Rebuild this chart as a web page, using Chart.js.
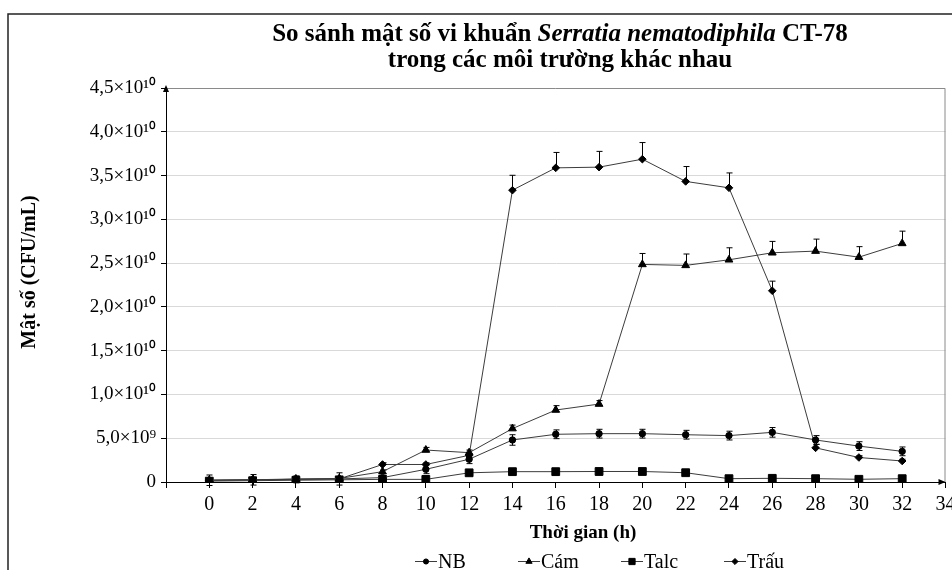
<!DOCTYPE html>
<html><head><meta charset="utf-8">
<script src="https://cdn.jsdelivr.net/npm/chart.js@4.4.1/dist/chart.umd.min.js"></script>
<style>html,body{margin:0;padding:0;background:#fff}</style>
</head><body>
<canvas id="c" width="952" height="570"></canvas>
<script>
// ---- data ----
const hours = [0,2,4,6,8,10,12,14,16,18,20,22,24,26,28,30,32];
const seriesNames = ['NB', 'Cám', 'Talc', 'Trấu'];
const nbValues   = [0.02e10,0.025e10,0.03e10,0.035e10,0.05e10,0.145e10,0.26e10,0.48e10,0.545e10,0.552e10,0.552e10,0.54e10,0.53e10,0.567e10,0.48e10,0.41e10,0.35e10];
const camValues  = [0.02e10,0.025e10,0.035e10,0.04e10,0.118e10,0.365e10,0.335e10,0.61e10,0.822e10,0.89e10,2.485e10,2.474e10,2.538e10,2.618e10,2.637e10,2.568e10,2.725e10];
const talcValues = [0.01e10,0.015e10,0.02e10,0.025e10,0.03e10,0.03e10,0.105e10,0.118e10,0.118e10,0.12e10,0.12e10,0.106e10,0.038e10,0.042e10,0.038e10,0.031e10,0.038e10];
const trauValues = [0.02e10,0.025e10,0.03e10,0.035e10,0.2e10,0.2e10,0.305e10,3.333e10,3.588e10,3.596e10,3.687e10,3.433e10,3.36e10,2.184e10,0.39e10,0.28e10,0.24e10];
const nbErrors   = [0.06e10,0.06e10,0.04e10,0.07e10,0.02e10,0.05e10,0.05e10,0.06e10,0.05e10,0.05e10,0.05e10,0.05e10,0.05e10,0.055e10,0.05e10,0.05e10,0.05e10];
const camErrors  = [0.01e10,0.01e10,0.01e10,0.01e10,0.02e10,0.03e10,0.03e10,0.04e10,0.05e10,0.04e10,0.125e10,0.13e10,0.137e10,0.13e10,0.137e10,0.12e10,0.14e10];
const talcErrors = [0,0,0,0,0,0,0,0,0,0,0,0,0,0,0,0,0];
const trauErrors = [0.01e10,0.01e10,0.01e10,0.01e10,0.02e10,0.02e10,0.02e10,0.17e10,0.176e10,0.18e10,0.19e10,0.17e10,0.17e10,0.11e10,0.04e10,0.02e10,0.02e10];
const xTickLabels = ['0','2','4','6','8','10','12','14','16','18','20','22','24','26','28','30','32','34'];
const yTickLabels = ['0','5,0×10⁹','1,0×10¹⁰','1,5×10¹⁰','2,0×10¹⁰','2,5×10¹⁰','3,0×10¹⁰','3,5×10¹⁰','4,0×10¹⁰','4,5×10¹⁰'];
const titleLine1 = ['So sánh mật số vi khuẩn ', 'Serratia nematodiphila', ' CT-78'];
const titleLine2 = 'trong các môi trường khác nhau';
const xAxisTitle = 'Thời gian (h)';
const yAxisTitle = 'Mật số (CFU/mL)';

// ---- styles ----
const SERIF = "'Liberation Serif', 'Times New Roman', serif";
const lineColor = '#3c3c3c';
const styles = [
  {pointStyle:'circle', radius:3.2},
  {pointStyle:'triangle', radius:4.5},
  {pointStyle:'rect', radius:5.5},
  {pointStyle:'rectRot', radius:3.8}
];
const allValues = [nbValues, camValues, talcValues, trauValues];
const allErrors = [nbErrors, camErrors, talcErrors, trauErrors];
const bothSides = [true, false, false, false];

const datasets = seriesNames.map((name, i) => ({
  label: name,
  data: hours.map((h, j) => ({x: h, y: allValues[i][j]})),
  errors: allErrors[i],
  bothSides: bothSides[i],
  borderColor: lineColor,
  borderWidth: 1,
  backgroundColor: '#000',
  pointBackgroundColor: '#000',
  pointBorderColor: '#000',
  pointBorderWidth: 1,
  pointStyle: styles[i].pointStyle,
  pointRadius: styles[i].radius,
  pointHoverRadius: styles[i].radius,
  tension: 0,
  fill: false
}));

const deco = {
  id: 'deco',
  beforeDraw(chart) {
    const ctx = chart.ctx;
    ctx.save();
    ctx.fillStyle = '#fff';
    ctx.fillRect(0, 0, chart.width, chart.height);
    ctx.restore();
  },
  beforeDatasetsDraw(chart) {
    const a = chart.chartArea, ctx = chart.ctx;
    ctx.save();
    ctx.strokeStyle = '#8a8a8a';
    ctx.lineWidth = 1;
    ctx.beginPath();
    ctx.moveTo(a.left, a.top + 0.5);
    ctx.lineTo(a.right - 0.5, a.top + 0.5);
    ctx.lineTo(a.right - 0.5, a.bottom);
    ctx.stroke();
    ctx.restore();
  },
  afterDatasetsDraw(chart) {
    const ctx = chart.ctx, xs = chart.scales.x, ys = chart.scales.y;
    ctx.save();
    ctx.strokeStyle = '#000';
    ctx.lineWidth = 1;
    chart.data.datasets.forEach(ds => {
      ds.data.forEach((p, j) => {
        const e = ds.errors[j];
        if (!e) return;
        const px = Math.round(xs.getPixelForValue(p.x)) + 0.5;
        const top = ys.getPixelForValue(p.y + e);
        const bot = ds.bothSides ? ys.getPixelForValue(Math.max(p.y - e, -0.2e10)) : ys.getPixelForValue(p.y);
        ctx.beginPath();
        ctx.moveTo(px, top); ctx.lineTo(px, bot);
        ctx.moveTo(px - 3, top); ctx.lineTo(px + 3, top);
        if (ds.bothSides) { ctx.moveTo(px - 3, bot); ctx.lineTo(px + 3, bot); }
        ctx.stroke();
      });
    });
    ctx.restore();
  },
  afterDraw(chart) {
    const ctx = chart.ctx, a = chart.chartArea;
    ctx.save();
    // outer frame
    ctx.strokeStyle = '#222';
    ctx.lineWidth = 1.5;
    ctx.beginPath();
    ctx.moveTo(8, chart.height); ctx.lineTo(8, 14); ctx.lineTo(chart.width, 14);
    ctx.stroke();
    // arrows
    ctx.fillStyle = '#000';
    ctx.beginPath();
    ctx.moveTo(a.left, a.top - 3); ctx.lineTo(a.left - 3, a.top + 4); ctx.lineTo(a.left + 3, a.top + 4); ctx.closePath(); ctx.fill();
    ctx.beginPath();
    ctx.moveTo(a.right, a.bottom); ctx.lineTo(a.right - 7, a.bottom - 3); ctx.lineTo(a.right - 7, a.bottom + 3); ctx.closePath(); ctx.fill();
    // title
    ctx.fillStyle = '#000';
    ctx.textBaseline = 'alphabetic';
    const fN = 'bold 25px ' + SERIF, fI = 'italic bold 25px ' + SERIF;
    const fonts = [fN, fI, fN];
    let widths = titleLine1.map((t, i) => { ctx.font = fonts[i]; return ctx.measureText(t).width; });
    let total = widths.reduce((s, w) => s + w, 0);
    let x = 560 - total / 2;
    titleLine1.forEach((t, i) => { ctx.font = fonts[i]; ctx.textAlign = 'left'; ctx.fillText(t, x, 41); x += widths[i]; });
    ctx.font = fN; ctx.textAlign = 'center';
    ctx.fillText(titleLine2, 560, 67);
    // axis titles
    ctx.font = 'bold 19px ' + SERIF;
    ctx.fillText(xAxisTitle, 583, 538);
    ctx.save();
    ctx.translate(30, 272);
    ctx.rotate(-Math.PI / 2);
    ctx.textBaseline = 'middle';
    ctx.font = 'bold 20px ' + SERIF;
    ctx.fillText(yAxisTitle, 0, 0);
    ctx.restore();
    // legend
    const ly = 561, slot = 103;
    let lx = 415;
    chart.data.datasets.forEach((ds, i) => {
      ctx.strokeStyle = lineColor; ctx.lineWidth = 1;
      ctx.beginPath(); ctx.moveTo(lx, ly + 0.5); ctx.lineTo(lx + 22, ly + 0.5); ctx.stroke();
      ctx.fillStyle = '#000'; ctx.strokeStyle = '#000';
      Chart.helpers.drawPoint(ctx, {pointStyle: ds.pointStyle, radius: ds.pointRadius * 0.8, borderWidth: 1, rotation: 0}, lx + 11, ly + 0.5);
      ctx.fillStyle = '#000';
      ctx.font = '20px ' + SERIF; ctx.textAlign = 'left'; ctx.textBaseline = 'alphabetic';
      ctx.fillText(ds.label, lx + 23, 568);
      lx += slot;
    });
    ctx.restore();
  }
};

new Chart(document.getElementById('c'), {
  type: 'line',
  data: { datasets },
  options: {
    responsive: false,
    animation: false,
    devicePixelRatio: 1,
    layout: { padding: { left: 0, right: 4, top: 88, bottom: 0 } },
    plugins: { legend: { display: false }, title: { display: false }, tooltip: { enabled: false } },
    scales: {
      x: {
        type: 'linear', min: -2, max: 34,
        afterFit(s) { s.height = 88; s.paddingLeft = 0; s.paddingRight = 0; },
        grid: { drawOnChartArea: false, tickLength: 6, tickColor: '#000', color: '#000' },
        border: { color: '#000', width: 1 },
        ticks: {
          stepSize: 2, autoSkip: false, maxRotation: 0, padding: 5, color: '#000',
          font: { family: SERIF, size: 20 },
          callback: (v) => { const i = xTickLabels.indexOf(String(v)); return i >= 0 ? xTickLabels[i] : ''; }
        }
      },
      y: {
        min: 0, max: 4.5e10,
        afterFit(s) { s.width = 166; s.paddingTop = 0; s.paddingBottom = 0; },
        grid: { color: '#d9d9d9', tickLength: 5, tickColor: '#000' },
        border: { color: '#000', width: 1 },
        ticks: {
          stepSize: 0.5e10, padding: 5, color: '#000',
          font: { family: SERIF, size: 19 },
          callback: (v, i) => yTickLabels[i]
        }
      }
    }
  },
  plugins: [deco]
});
</script>
</body></html>
